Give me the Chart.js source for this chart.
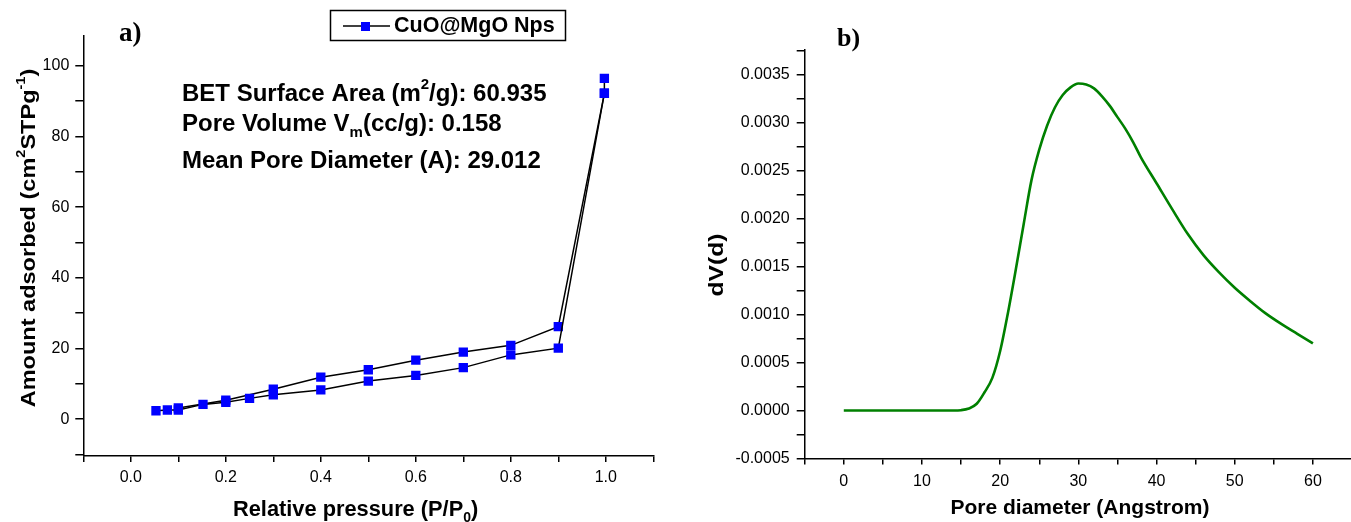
<!DOCTYPE html>
<html lang="en">
<head>
    <meta charset="UTF-8">
    <title>CuO@MgO BET</title>
    <script src="https://cdn.jsdelivr.net/npm/chart.js"></script>
    <style>
        html, body { margin: 0; padding: 0; background: #fff; overflow: hidden; }
        #wrap { position: relative; width: 1351px; height: 522px; }
        canvas { position: absolute; top: 0; }
        #isoChart { left: 0; }
        #poreChart { left: 675px; }
    </style>
</head>
<body>
<div id="wrap">
    <canvas id="isoChart" width="675" height="522"></canvas>
    <canvas id="poreChart" width="685" height="522"></canvas>
</div>
<script>
// a) isotherm: adsorption branch and desorption branch
const adsP = [0.053, 0.077, 0.1, 0.152, 0.2, 0.25, 0.3, 0.4, 0.5, 0.6, 0.7, 0.8, 0.9, 0.997, 0.997];
const adsV = [2.4, 2.6, 2.6, 4.2, 4.8, 5.9, 6.9, 8.3, 10.8, 12.4, 14.6, 18.2, 20.1, 92.2, 96.4];
const desP = [0.997, 0.9, 0.8, 0.7, 0.6, 0.5, 0.4, 0.3, 0.2, 0.1];
const desV = [92.2, 26.2, 20.9, 19.0, 16.7, 14.0, 11.9, 8.5, 5.4, 3.2];

// b) pore size distribution
const poreD = [0, 2, 4, 6, 8, 10, 12, 14, 15, 16, 17, 18, 19, 20, 21, 22, 23, 24, 25, 26, 27, 28, 29, 30,
               31, 32, 33, 34, 35, 36, 37, 38, 40, 42, 44, 46, 48, 50, 52, 54, 56, 58, 60];
const poreDV = [0, 0, 0, 0, 0, 0, 0, 0, 0.000003, 0.00002, 0.00007, 0.00019, 0.00034, 0.00062, 0.00102,
                0.00147, 0.00194, 0.0024, 0.00272, 0.00297, 0.00316, 0.00329, 0.00337, 0.00341,
                0.0034, 0.00336, 0.00328, 0.00318, 0.00306, 0.00294, 0.0028, 0.00264, 0.00237,
                0.0021, 0.00184, 0.00162, 0.00144, 0.00128, 0.00114, 0.00101, 0.0009, 0.0008, 0.0007];

const isoXTicks = [0, 0.2, 0.4, 0.6, 0.8, 1.0];
const isoYTicks = [0, 20, 40, 60, 80, 100];
const poreXTicks = [0, 10, 20, 30, 40, 50, 60];
const poreYTicks = [-0.0005, 0, 0.0005, 0.001, 0.0015, 0.002, 0.0025, 0.003, 0.0035];

const SANS = '"Liberation Sans", Arial, sans-serif';
const SERIF = '"Liberation Serif", "Times New Roman", serif';

// text with superscripts / subscripts, parts = [[text, 'n'|'sup'|'sub'], ...]
function richWidth(ctx, parts, size) {
    let w = 0;
    parts.forEach(([t, k]) => {
        ctx.font = 'bold ' + (k === 'n' ? size : Math.round(size * 0.62)) + 'px ' + SANS;
        w += ctx.measureText(t).width;
    });
    return w;
}
function richText(ctx, parts, x, y, size) {
    ctx.textBaseline = 'middle';
    ctx.textAlign = 'left';
    parts.forEach(([t, k]) => {
        const s = k === 'n' ? size : Math.round(size * 0.62);
        ctx.font = 'bold ' + s + 'px ' + SANS;
        let dy = 0;
        if (k === 'sup') dy = -size * 0.38;
        if (k === 'sub') dy = size * 0.36;
        ctx.fillText(t, x, y + dy);
        x += ctx.measureText(t).width;
    });
}
// rotated axis title, centred on (cx, cy), slightly stretched along its length
function sideTitle(ctx, parts, cx, cy, size, stretch) {
    ctx.save();
    ctx.translate(cx, cy);
    ctx.rotate(-Math.PI / 2);
    ctx.scale(stretch, 1);
    richText(ctx, parts, -richWidth(ctx, parts, size) / 2, 0, size);
    ctx.restore();
}

function axisBase(min, max, step, majors, fmt, tickLen, pad, size) {
    return {
        type: 'linear',
        min: min,
        max: max,
        border: { display: true, color: '#000', width: 1.5 },
        grid: { drawOnChartArea: false, drawTicks: true, tickLength: tickLen, color: '#000', lineWidth: 1.5 },
        ticks: {
            stepSize: step,
            includeBounds: false,
            autoSkip: false,
            maxRotation: 0,
            padding: pad,
            color: '#000',
            font: { family: SANS, size: 16 },
            callback: v => majors.some(m => Math.abs(m - v) < step / 10) ? fmt(v) : ''
        },
        afterFit: s => { if (s.isHorizontal()) s.height = size; else s.width = size; }
    };
}

const isoText = {
    id: 'isoText',
    afterDraw(chart) {
        const ctx = chart.ctx;
        ctx.save();
        ctx.fillStyle = '#000';
        // panel letter
        ctx.font = 'bold 27px ' + SERIF;
        ctx.textBaseline = 'middle';
        ctx.fillText('a)', 119, 34);
        // legend
        ctx.strokeStyle = '#000';
        ctx.lineWidth = 1.5;
        ctx.strokeRect(330.5, 10.5, 235, 30);
        ctx.beginPath();
        ctx.moveTo(343, 26);
        ctx.lineTo(390, 26);
        ctx.stroke();
        ctx.fillStyle = '#0000ff';
        ctx.fillRect(361, 22, 9, 9);
        ctx.fillStyle = '#000';
        richText(ctx, [['CuO@MgO Nps', 'n']], 394, 26, 21.5);
        // surface data
        richText(ctx, [['BET Surface Area (m', 'n'], ['2', 'sup'], ['/g): 60.935', 'n']], 182, 94, 24);
        richText(ctx, [['Pore Volume V', 'n'], ['m', 'sub'], ['(cc/g): 0.158', 'n']], 182, 124, 24);
        richText(ctx, [['Mean Pore Diameter (A): 29.012', 'n']], 182, 161, 24);
        // axis titles
        richText(ctx, [['Relative pressure (P/P', 'n'], ['0', 'sub'], [')', 'n']], 233, 510, 21.8);
        sideTitle(ctx, [['Amount adsorbed (cm', 'n'], ['2', 'sup'], ['STPg', 'n'], ['-1', 'sup'], [')', 'n']],
            29, 238, 21, 1.12);
        ctx.restore();
    }
};

const poreText = {
    id: 'poreText',
    afterDraw(chart) {
        const ctx = chart.ctx;
        ctx.save();
        ctx.fillStyle = '#000';
        ctx.font = 'bold 26px ' + SERIF;
        ctx.textBaseline = 'middle';
        ctx.fillText('b)', 837 - 675, 39);
        const xt = [['Pore diameter (Angstrom)', 'n']];
        richText(ctx, xt, 1080 - 675 - richWidth(ctx, xt, 21) / 2, 508, 21);
        sideTitle(ctx, [['dV(d)', 'n']], 717 - 675, 265, 21, 1.17);
        ctx.restore();
    }
};

const pointStyle = {
    pointStyle: 'rect',
    pointRadius: 6.6,
    pointBackgroundColor: '#0000ff',
    pointBorderColor: '#0000ff',
    pointBorderWidth: 0,
    borderColor: '#000',
    borderWidth: 1.5,
    showLine: true,
    tension: 0
};

new Chart(document.getElementById('isoChart'), {
    type: 'scatter',
    data: {
        datasets: [
            Object.assign({ label: 'CuO@MgO Nps', data: adsP.map((p, i) => ({ x: p, y: adsV[i] })) }, pointStyle),
            Object.assign({ label: 'desorption', data: desP.map((p, i) => ({ x: p, y: desV[i] })) }, pointStyle)
        ]
    },
    options: {
        responsive: false,
        animation: false,
        layout: { padding: { top: 36, right: 21.7, left: 0, bottom: 0 } },
        plugins: { legend: { display: false }, tooltip: { enabled: false } },
        scales: {
            x: axisBase(-0.1, 1.1, 0.1, isoXTicks, v => v.toFixed(1), 6, 6, 66),
            y: axisBase(-10.4, 108.4, 10, isoYTicks, v => String(Math.round(v)), 8, 6, 83.3)
        }
    },
    plugins: [isoText]
});

new Chart(document.getElementById('poreChart'), {
    type: 'line',
    data: {
        datasets: [{
            label: 'dV(d)',
            data: poreD.map((d, i) => ({ x: d, y: poreDV[i] })),
            borderColor: '#008000',
            borderWidth: 2.6,
            pointRadius: 0,
            cubicInterpolationMode: 'monotone',
            fill: false
        }]
    },
    options: {
        responsive: false,
        animation: false,
        layout: { padding: { top: 50, right: 7.6, left: 0, bottom: 0 } },
        plugins: { legend: { display: false }, tooltip: { enabled: false } },
        scales: {
            x: axisBase(-5, 65, 5, poreXTicks, v => String(Math.round(v)), 6, 8, 63.6),
            y: axisBase(-0.0005, 0.00376, 0.00025, poreYTicks, v => v.toFixed(4), 8, 7, 129.7)
        }
    },
    plugins: [poreText]
});
</script>
</body>
</html>
